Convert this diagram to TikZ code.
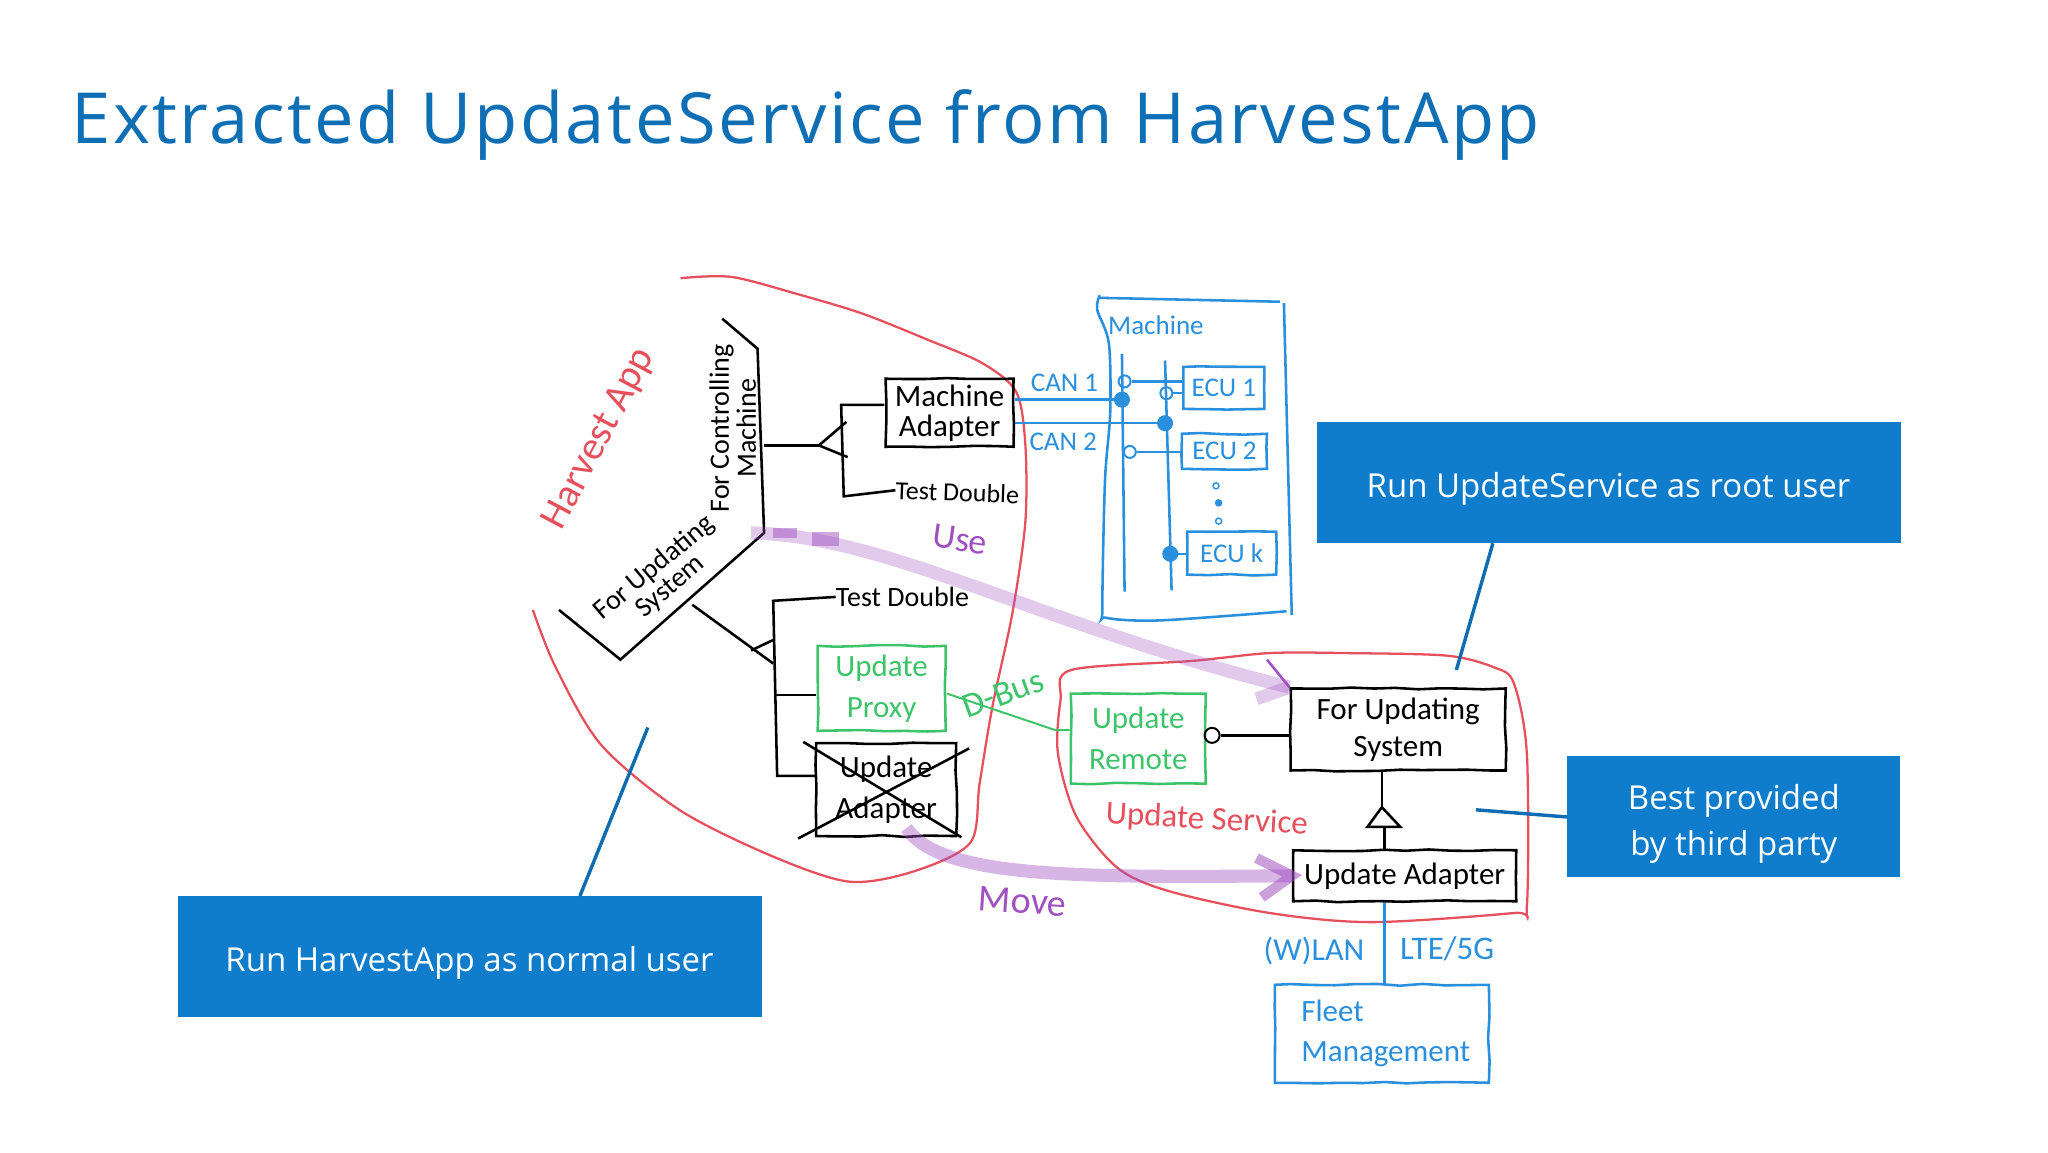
\documentclass[tikz,border=0pt]{standalone}
\usepackage{fontspec}
\setmainfont{Open Sans}
\newfontfamily\titlefont[LetterSpace=3.5]{Open Sans}
\newfontfamily\handfont{Carlito}
\usetikzlibrary{positioning, decorations.pathmorphing}
\pgfmathsetseed{7}
\definecolor{slideblue}{HTML}{0F7DCC}
\definecolor{leaderblue}{HTML}{0F6CB0}
\definecolor{titleblue}{HTML}{0F6FB5}
\definecolor{penred}{HTML}{E6505C}
\definecolor{penblue}{HTML}{2A8FDC}
\definecolor{pengreen}{HTML}{3DC46A}
\definecolor{penpurple}{HTML}{A050C0}
\tikzstyle{callout} = [rectangle, fill = slideblue, inner sep = 0pt, minimum height = 121pt]
\tikzstyle{callouttext} = [text = white, inner sep = 0pt, align = center, font = \fontsize{33}{46}\selectfont]
\tikzstyle{leader} = [draw = leaderblue, line width = 1.2mm]
\tikzstyle{wobble} = [decorate, decoration = {random steps, segment length = 22pt, amplitude = 0.9pt}]
\tikzstyle{handbox} = [rectangle, draw = black, line width = 0.9mm, inner sep = 0pt, align = center, wobble, font = \handfont\fontsize{31}{30}\selectfont]
\tikzstyle{greenbox} = [handbox, draw = pengreen, text = pengreen, font = \handfont\fontsize{31}{41}\selectfont]
\tikzstyle{bluebox} = [handbox, draw = penblue, text = penblue]
\tikzstyle{ecubox} = [bluebox, font = \handfont\fontsize{27}{27}\selectfont]
\tikzstyle{hand} = [inner sep = 0pt, align = center, font = \handfont\fontsize{28}{27}\selectfont]
\tikzstyle{bluetext} = [hand, text = penblue, font = \handfont\fontsize{27}{27}\selectfont]
\tikzstyle{joint} = [circle, draw = penblue, inner sep = 0pt, line width = 0.7mm, minimum size = 12pt]
\tikzstyle{blackpen} = [draw = black, line width = 0.9mm]
\tikzstyle{redpen} = [draw = penred, line width = 0.8mm]
\tikzstyle{bluepen} = [draw = penblue, line width = 0.9mm]
\tikzstyle{greenpen} = [draw = pengreen, line width = 0.7mm]
\tikzstyle{marker} = [draw = penpurple, opacity = 0.3, line width = 4.6mm]

\begin{document}
\begin{tikzpicture}[x = 1.30612pt, y = -1.30612pt]
    \useasboundingbox (0, 0) rectangle (1568, 882);

    \node (Title) at (617, 96) [text = titleblue, font = \titlefont\fontsize{70.5}{80}\selectfont] {Extracted UpdateService from HarvestApp};

    % Harvest App side
    \draw [redpen] plot [smooth] coordinates {(521, 213) (560, 212) (610, 225) (660, 240) (710, 260) (752, 278) (778, 300) (785, 340) (785, 400) (775, 470) (760, 540) (750, 600) (743, 645) (700, 667) (650, 675) (590, 655) (520, 620) (460, 570) (425, 510) (408, 467)};
    \node (HarvestLabel) at (459, 336) [hand, text = penred, rotate = 62, font = \handfont\fontsize{40}{40}\selectfont] {Harvest App};
    \draw [blackpen] (553, 244) -- (580, 267) -- (585, 408) -- (475, 505) -- (428, 467);
    \node (Controlling) at (561, 328) [hand, rotate = 90] {For Controlling\\Machine};
    \node (Updating) at (507, 442) [hand, rotate = 40, font = \handfont\fontsize{28}{25}\selectfont] {For Updating\\System};

    \node (Adapter) at (727, 316) [handbox, minimum width = 128pt, minimum height = 68pt] {Machine\\Adapter};
    \node (DoubleA) at (733, 377) [hand, font = \handfont\fontsize{26}{26}\selectfont, rotate = -2] {Test Double};
    \coordinate (PortA) at (585, 341);
    \coordinate (TipA) at (627, 341);
    \coordinate (RailA) at (644, 310);
    \coordinate (RailB) at (646, 380);
    \draw [blackpen] (PortA) -- (TipA);
    \draw [blackpen] (648, 323) -- (TipA) -- (649, 350);
    \draw [blackpen] (Adapter.west |- RailA) -- (RailA) -- (RailB) -- (DoubleA.west);

    \node (DoubleB) at (691, 457) [hand] {Test Double};
    \node (Proxy) at (675, 527) [greenbox, minimum width = 128pt, minimum height = 85pt] {Update\\Proxy};
    \node (OldAdapter) at (678.5, 604.5) [handbox, minimum width = 140pt, minimum height = 93pt, font = \handfont\fontsize{31}{41}\selectfont] {Update\\Adapter};
    \coordinate (PortB) at (530, 463);
    \coordinate (TipB) at (592, 508);
    \coordinate (RailC) at (592, 460);
    \coordinate (RailD) at (595, 594);
    \draw [blackpen] (PortB) -- (TipB);
    \draw [blackpen] (575, 498) -- (592, 490);
    \draw [blackpen] (DoubleB.west) -- (RailC) -- (RailD) -- (OldAdapter.west |- RailD);
    \draw [blackpen] (594, 532) -- (Proxy.west |- 594, 532);
    \draw [blackpen] (615, 568) -- (736, 641);
    \draw [blackpen] (742, 573) -- (611, 642);

    % Machine
    \draw [bluepen] plot [smooth] coordinates {(842, 226) (840, 237) (849, 263) (850, 316) (846, 368) (844, 465) (847, 473) (888, 475) (985, 468)};
    \draw [bluepen] (841, 228) -- (980, 231);
    \draw [bluepen] (983, 232) -- (989, 471);
    \node (MachineLabel) at (885, 249) [bluetext] {Machine};
    \node (EcuA) at (937, 297) [ecubox, minimum width = 81pt, minimum height = 42pt] {ECU 1};
    \node (EcuB) at (937.5, 345.5) [ecubox, minimum width = 85pt, minimum height = 35pt] {ECU 2};
    \node (EcuK) at (943, 423.5) [ecubox, minimum width = 89pt, minimum height = 43pt] {ECU k};
    \coordinate (BusAtop) at (859, 271);
    \coordinate (BusAend) at (861, 453);
    \coordinate (BusBtop) at (892, 276);
    \coordinate (BusBend) at (897, 452);
    \draw [bluepen] (BusAtop) -- (BusAend);
    \draw [bluepen] (BusBtop) -- (BusBend);
    \node (JointA) at (861, 292) [joint] {};
    \node (JointB) at (859, 306) [joint, fill = penblue, minimum size = 14pt] {};
    \node (JointC) at (893, 301) [joint] {};
    \node (JointD) at (892, 324) [joint, fill = penblue, minimum size = 14pt] {};
    \node (JointE) at (865, 346) [joint] {};
    \node (JointF) at (896, 424) [joint, fill = penblue, minimum size = 14pt] {};
    \draw [bluepen] (JointA) -- (EcuA.west |- JointA);
    \draw [bluepen] (JointC) -- (EcuA.west |- JointC);
    \draw [bluepen] (JointE) -- (EcuB.west |- JointE);
    \draw [bluepen] (JointF) -- (EcuK.west |- JointF);
    \draw [bluepen] (Adapter.east |- JointB) -- (JointB);
    \draw [bluepen] (Adapter.east |- JointD) -- (JointD);
    \node (CanA) at (815, 293) [bluetext] {CAN 1};
    \node (CanB) at (814, 338) [bluetext] {CAN 2};
    \node (DotA) at (931, 372) [joint, minimum size = 6pt, line width = 0.5mm] {};
    \node (DotB) at (933, 385) [joint, minimum size = 6pt, line width = 0.5mm, fill = penblue] {};
    \node (DotC) at (933, 399) [joint, minimum size = 6pt, line width = 0.5mm] {};

    % Update Service side
    \draw [redpen] plot [smooth cycle] coordinates {(820, 513) (913, 506) (972, 500) (1030, 500) (1108, 502) (1144, 511) (1159, 523) (1169, 577) (1169, 694) (1159, 699) (1050, 706) (972, 699) (894, 682) (855, 664) (824, 625) (810, 577) (812, 536)};
    \node (ServiceLabel) at (924, 628) [hand, text = penred, rotate = -3, font = \handfont\fontsize{33}{33}\selectfont] {Update Service};
    \node (Remote) at (871.5, 565.5) [greenbox, minimum width = 135pt, minimum height = 90pt] {Update\\Remote};
    \node (ForUpdating) at (1070.5, 558.5) [handbox, minimum width = 215pt, minimum height = 82pt, font = \handfont\fontsize{31}{37}\selectfont] {For Updating\\System};
    \node (UpdAdapter) at (1075.5, 670.5) [handbox, minimum width = 223pt, minimum height = 51pt] {Update Adapter};
    \node (Lolly) at (928, 563) [circle, draw = black, line width = 0.7mm, inner sep = 0pt, minimum size = 15pt] {};
    \draw [blackpen] (Lolly) -- (ForUpdating.west |- Lolly);
    \coordinate (TipC) at (1058, 618);
    \draw [blackpen] (ForUpdating.south -| TipC) -- (TipC);
    \draw [blackpen] (TipC) -- (1047, 633) -- (1072, 633) -- cycle;
    \draw [blackpen] (1060, 633) -- (UpdAdapter.north -| 1060, 633);
    \draw [greenpen] (Proxy.east |- 724, 531) -- (808, 559) -- (Remote.west |- 808, 559);
    \node (BusLabel) at (768, 531) [hand, text = pengreen, rotate = 20, font = \handfont\fontsize{35}{35}\selectfont] {D-Bus};

    % Fleet Management
    \node (Fleet) at (1058, 791.5) [bluebox, minimum width = 214pt, minimum height = 98pt] {};
    \node (FleetText) at (1061, 791) [hand, text = penblue, align = left, font = \handfont\fontsize{31}{40}\selectfont] {Fleet\\Management};
    \coordinate (FleetLink) at (1060, 754);
    \draw [bluepen] (UpdAdapter.south -| FleetLink) -- (FleetLink);
    \node (WlanLabel) at (1006, 728) [bluetext, font = \handfont\fontsize{32}{32}\selectfont] {(W)LAN};
    \node (LteLabel) at (1108, 726) [bluetext, font = \handfont\fontsize{33}{33}\selectfont] {LTE/5G};

    % purple marker arrows
    \coordinate (UseStart) at (575, 408);
    \coordinate (MoveStart) at (694, 634);
    \draw [marker] (UseStart) .. controls (680, 410) and (800, 480) .. (ForUpdating.north west);
    \draw [marker] (962, 535) -- (ForUpdating.north west);
    \draw [draw = penpurple, line width = 0.9mm] (970, 505) -- (ForUpdating.north west);
    \fill [penpurple, opacity = 0.5] (592, 404) rectangle (610, 412);
    \fill [penpurple, opacity = 0.5] (622, 407) rectangle (642, 418);
    \draw [marker, opacity = 0.42] (MoveStart) .. controls (720, 672) and (820, 672) .. (UpdAdapter.west);
    \draw [marker, opacity = 0.55, line width = 3.6mm] (962, 657) -- (UpdAdapter.west) -- (966, 687);
    \node (UseLabel) at (735, 413) [hand, text = penpurple, font = \handfont\fontsize{36}{36}\selectfont, rotate = -8] {Use};
    \node (MoveLabel) at (783, 690) [hand, text = penpurple, font = \handfont\fontsize{38}{38}\selectfont, rotate = -4] {Move};

    % callouts
    \node (RootBox) at (1231.5, 369.5) [callout, minimum width = 584pt] {};
    \node (RootText) at ([yshift = -6pt]RootBox.center) [callouttext] {Run UpdateService as root user};
    \node (ThirdBox) at (1327.5, 625.5) [callout, minimum width = 333pt] {};
    \node (ThirdText) at ([yshift = -7pt]ThirdBox.center) [callouttext] {Best provided\\by third party};
    \node (NormalBox) at (359.5, 732.5) [callout, minimum width = 584pt] {};
    \node (NormalText) at ([yshift = -6pt]NormalBox.center) [callouttext] {Run HarvestApp as normal user};
    \coordinate (RootEnd) at (1115, 513);
    \coordinate (ThirdEnd) at (1130, 620);
    \coordinate (NormalEnd) at (496, 557);
    \draw [leader] (RootBox.south -| 1143, 416) -- (RootEnd);
    \draw [leader] (ThirdBox.west) -- (ThirdEnd);
    \draw [leader] (NormalBox.north -| 444, 686) -- (NormalEnd);
\end{tikzpicture}
\end{document}
